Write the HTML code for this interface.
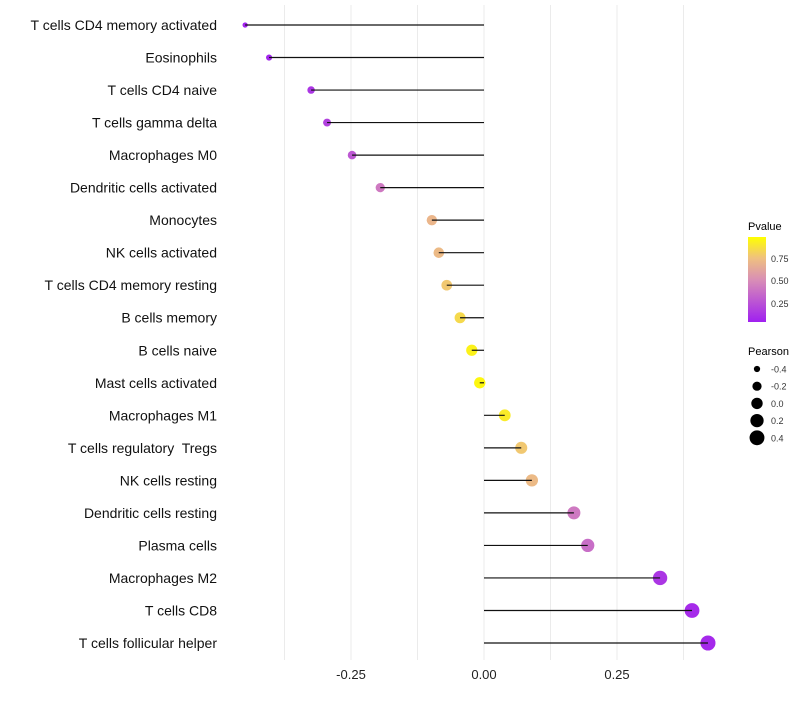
<!DOCTYPE html>
<html><head><meta charset="utf-8"><style>
body{margin:0;background:#fff;}
svg text{font-family:"Liberation Sans",sans-serif;white-space:pre;}
</style></head><body>
<svg id="chart" width="800" height="700">
<defs><linearGradient id="pgrad" x1="0" y1="1" x2="0" y2="0">
<stop offset="0" stop-color="#A020F0"/><stop offset="0.5" stop-color="#D98FB5"/><stop offset="0.75" stop-color="#EFC080"/><stop offset="1" stop-color="#FFFF00"/>
</linearGradient></defs>
<g id="grid"></g><g id="marks"></g><g id="labels"></g>
<g>
<text x="748" y="230" font-size="11" fill="#000">Pvalue</text>
<rect x="748" y="237" width="18" height="85" fill="url(#pgrad)"/>
<text x="771" y="262" font-size="9" fill="#333">0.75</text>
<text x="771" y="284" font-size="9" fill="#333">0.50</text>
<text x="771" y="307" font-size="9" fill="#333">0.25</text>
<text x="748" y="355" font-size="11" fill="#000">Pearson</text>
<g id="sizeleg"></g>
</g>
</svg>
<script>
const categories=["T cells CD4 memory activated","Eosinophils","T cells CD4 naive","T cells gamma delta","Macrophages M0","Dendritic cells activated","Monocytes","NK cells activated","T cells CD4 memory resting","B cells memory","B cells naive","Mast cells activated","Macrophages M1","T cells regulatory  Tregs","NK cells resting","Dendritic cells resting","Plasma cells","Macrophages M2","T cells CD8","T cells follicular helper"];
const pearson=[-0.449,-0.404,-0.325,-0.295,-0.248,-0.195,-0.098,-0.085,-0.070,-0.045,-0.023,-0.008,0.039,0.070,0.090,0.169,0.195,0.331,0.391,0.421];
const pvalue=[0.02,0.03,0.1,0.15,0.25,0.4,0.7,0.72,0.78,0.85,0.95,0.97,0.92,0.78,0.72,0.4,0.35,0.1,0.05,0.04];
const xTicks=[-0.25,0,0.25];
const xTickLabels=["-0.25","0.00","0.25"];
const legendPearson=[-0.4,-0.2,0.0,0.2,0.4];
const NS="http://www.w3.org/2000/svg";
const xs=v=>484+v*532;
const ys=i=>25+i*(618/19);
const rs=v=>Math.sqrt(Math.max(5,30+57*(v+0.045)));
function col(p){
 const st=[[0,[160,32,240]],[0.5,[217,143,181]],[0.75,[239,192,128]],[1,[255,255,0]]];
 for(let k=1;k<st.length;k++){if(p<=st[k][0]){const a=st[k-1],b=st[k];const t=(p-a[0])/(b[0]-a[0]);
 return "rgb("+a[1].map((c,j)=>Math.round(c+(b[1][j]-c)*t)).join(",")+")";}}
 return "rgb(255,255,0)";}
function mk(tag,attrs,parent){const e=document.createElementNS(NS,tag);for(const k in attrs)e.setAttribute(k,attrs[k]);parent.appendChild(e);return e;}
const grid=document.getElementById('grid'),marks=document.getElementById('marks'),labels=document.getElementById('labels');
[-0.375,-0.25,-0.125,0,0.125,0.25,0.375].forEach(v=>{
 const l=mk('line',{x1:xs(v),x2:xs(v),y1:5,y2:660,stroke:'#ebebeb','stroke-width':1},grid);
 
 
});
xTicks.forEach((v,i)=>{
 const t=mk('text',{x:xs(v),y:679,'font-size':13,'text-anchor':'middle',fill:'#222'},labels);
 t.textContent=xTickLabels[i];
 
 
});
categories.forEach((c,i)=>{
 const y=ys(i);
 const t=mk('text',{x:217,y:y+5,'font-size':14,'text-anchor':'end',fill:'#111'},labels);
 t.textContent=c;
 
 
 const p=mk('circle',{cx:xs(pearson[i]),cy:y,r:rs(pearson[i]),fill:col(pvalue[i])},marks);
 
 
 const s=mk('line',{x1:xs(0),x2:xs(pearson[i]),y1:y,y2:y,stroke:'#111','stroke-width':1.2},marks);
 
 
});
const sl=document.getElementById('sizeleg');
legendPearson.forEach((v,i)=>{
 const y=369+i*17.2;
 const c=mk('circle',{cx:757,cy:y,r:rs(v),fill:'#000'},sl);
 
 
 const t=mk('text',{x:771,y:y+3.5,'font-size':9,fill:'#333'},sl);
 t.textContent=v.toFixed(1);
 
 
});
</script>
</body></html>
